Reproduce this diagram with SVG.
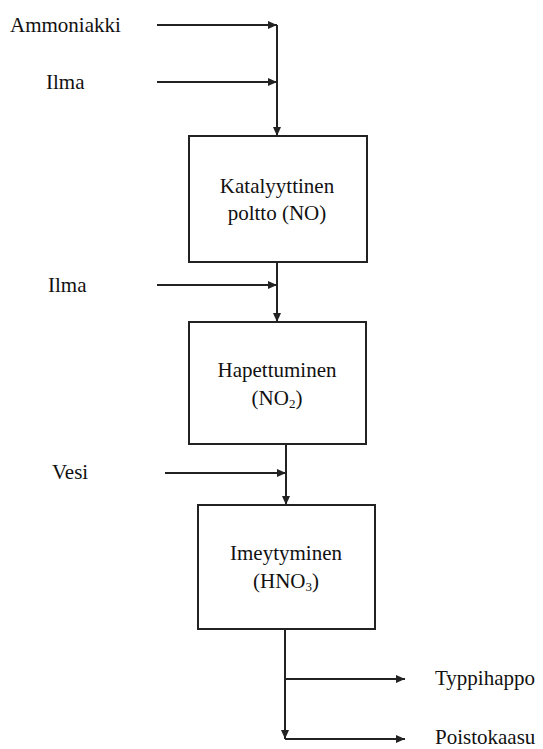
<svg xmlns="http://www.w3.org/2000/svg" width="543" height="749" viewBox="0 0 543 749">
<style>
text{font-family:"Liberation Serif","Times New Roman",serif;font-size:21px;fill:#111}
.c{text-anchor:middle}
.box{fill:#fff;stroke:#222;stroke-width:2}
.ln{stroke:#222;stroke-width:2;fill:none}
</style>
<defs>
<marker id="ah" markerUnits="userSpaceOnUse" markerWidth="9" markerHeight="8" refX="9" refY="4" orient="auto">
<path d="M0,0 L9,4 L0,8 z" fill="#222"/>
</marker>
</defs>
<rect width="543" height="749" fill="#fff"/>
<g id="connectors">
<path class="ln" d="M157,25 H277" marker-end="url(#ah)"/>
<path class="ln" d="M157,82 H277" marker-end="url(#ah)"/>
<path class="ln" d="M277,25 V136" marker-end="url(#ah)"/>
<path class="ln" d="M157,285 H277" marker-end="url(#ah)"/>
<path class="ln" d="M277,262 V322" marker-end="url(#ah)"/>
<path class="ln" d="M165,473 H286" marker-end="url(#ah)"/>
<path class="ln" d="M286,444 V505" marker-end="url(#ah)"/>
<path class="ln" d="M285,629 V739" marker-end="url(#ah)"/>
<path class="ln" d="M285,679 H405" marker-end="url(#ah)"/>
<path class="ln" d="M285,739 H405" marker-end="url(#ah)"/>
</g>
<g id="in-ammoniakki"><text x="10" y="32">Ammoniakki</text></g>
<g id="in-ilma1"><text x="46" y="89">Ilma</text></g>
<g id="in-ilma2"><text x="48" y="292">Ilma</text></g>
<g id="in-vesi"><text x="52" y="479">Vesi</text></g>
<g id="n1">
<rect class="box" x="189" y="136" width="178" height="126"/>
<text class="c" x="277" y="193">Katalyyttinen</text>
<text class="c" x="277" y="220">poltto (NO)</text>
</g>
<g id="n2">
<rect class="box" x="189" y="322" width="177" height="122"/>
<text class="c" x="277" y="377">Hapettuminen</text>
<text class="c" x="277" y="405">(NO<tspan font-size="13" dy="3">2</tspan><tspan dy="-3">)</tspan></text>
</g>
<g id="n3">
<rect class="box" x="198" y="505" width="177" height="124"/>
<text class="c" x="286" y="560">Imeytyminen</text>
<text class="c" x="286" y="588">(HNO<tspan font-size="13" dy="3">3</tspan><tspan dy="-3">)</tspan></text>
</g>
<g id="out-typpihappo"><text x="435" y="685">Typpihappo</text></g>
<g id="out-poistokaasu"><text x="435" y="744">Poistokaasu</text></g>
</svg>
